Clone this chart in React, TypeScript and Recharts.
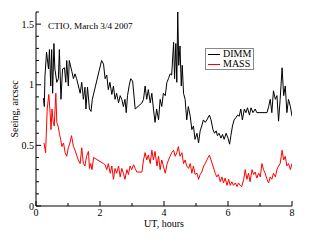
import { LineChart, Line, XAxis, YAxis, Legend } from "recharts";

const FONT = '"Liberation Serif", "Times New Roman", serif';

const dimmTime = [
  0.23, 0.26, 0.28, 0.33, 0.39, 0.42, 0.46, 0.49, 0.52, 0.56, 0.59, 0.65, 0.7, 0.73, 0.78, 0.83, 0.89, 0.93, 0.96, 1.01,
  1.04, 1.12, 1.17, 1.22, 1.27, 1.38, 1.43, 1.48, 1.53, 1.56, 1.61, 1.67, 1.72, 1.76, 2.05, 2.11, 2.16, 2.21, 2.26, 2.31,
  2.37, 2.42, 2.47, 2.52, 2.58, 2.63, 2.68, 2.73, 2.78, 2.82, 2.86, 2.91, 2.96, 3.02, 3.1, 3.31, 3.36, 3.41, 3.46, 3.51,
  3.57, 3.62, 3.67, 3.72, 3.77, 3.83, 3.88, 3.93, 3.98, 4.04, 4.09, 4.14, 4.19, 4.24, 4.3, 4.33, 4.37, 4.4, 4.43, 4.46,
  4.5, 4.54, 4.57, 4.61, 4.66, 4.71, 4.76, 4.82, 4.87, 4.92, 4.97, 5.03, 5.08, 5.13, 5.18, 5.23, 5.29, 5.34, 5.42, 5.47,
  5.53, 5.58, 5.63, 5.67, 5.72, 5.78, 5.83, 5.88, 5.94, 6.0, 6.05, 6.09, 6.14, 6.19, 6.25, 6.3, 6.35, 6.4, 6.45, 6.51,
  6.56, 6.61, 6.67, 6.72, 6.78, 6.85, 6.9, 7.22, 7.27, 7.32, 7.37, 7.42, 7.48, 7.53, 7.58, 7.63, 7.69, 7.74, 7.79, 7.84,
  7.89, 7.95, 8.0,
];
const dimmSeeing = [
  0.89, 0.82, 1.07, 1.27, 1.13, 1.29, 0.99, 1.29, 0.93, 1.34, 1.13, 1.02, 1.05, 1.29, 0.88, 1.13, 1.14, 1.02, 1.2, 0.99,
  1.2, 1.11, 1.05, 1.09, 1.05, 0.93, 1.02, 0.88, 0.98, 0.8, 0.98, 0.8, 0.78, 0.88, 1.2, 1.17, 1.05, 1.08, 0.96, 1.02,
  0.92, 0.99, 0.88, 0.93, 0.85, 0.91, 0.88, 0.82, 0.88, 0.77, 0.91, 0.99, 1.05, 1.03, 0.8, 0.85, 0.88, 0.99, 0.88, 0.96,
  0.85, 0.93, 0.8, 0.69, 0.8, 0.71, 0.88, 0.82, 0.93, 0.91, 1.02, 1.05, 1.09, 1.08, 1.35, 1.05, 1.34, 1.02, 1.6, 1.16,
  1.32, 0.99, 1.16, 0.93, 0.88, 0.71, 0.82, 0.74, 0.63, 0.66, 0.55, 0.6, 0.52, 0.62, 0.66, 0.71, 0.69, 0.71, 0.75, 0.71,
  0.63, 0.6, 0.62, 0.58, 0.6, 0.56, 0.59, 0.55, 0.6, 0.56, 0.51, 0.58, 0.66, 0.71, 0.73, 0.75, 0.74, 0.8, 0.71, 0.8,
  0.77, 0.81, 0.75, 0.81, 0.77, 0.8, 0.77, 0.77, 0.82, 0.88, 0.77, 0.95, 0.88, 0.91, 0.7, 0.88, 1.14, 0.91, 0.99, 0.77,
  0.88, 0.82, 0.74,
];

const massTime = [
  0.25, 0.3, 0.35, 0.4, 0.44, 0.47, 0.5, 0.54, 0.57, 0.62, 0.65, 0.69, 0.73, 0.77, 0.81, 0.86, 0.91, 0.96, 1.01, 1.06,
  1.11, 1.17, 1.22, 1.27, 1.32, 1.38, 1.43, 1.48, 1.53, 1.58, 1.64, 1.67, 1.71, 1.75, 1.8, 2.11, 2.16, 2.21, 2.26, 2.32,
  2.37, 2.42, 2.47, 2.52, 2.58, 2.63, 2.68, 2.73, 2.78, 2.84, 2.89, 2.94, 2.99, 3.05, 3.1, 3.15, 3.31, 3.36, 3.41, 3.46,
  3.51, 3.57, 3.62, 3.67, 3.72, 3.78, 3.83, 3.88, 3.93, 3.98, 4.04, 4.09, 4.14, 4.19, 4.24, 4.3, 4.35, 4.4, 4.45, 4.5,
  4.56, 4.61, 4.66, 4.71, 4.77, 4.82, 4.87, 4.92, 4.97, 5.03, 5.08, 5.13, 5.18, 5.24, 5.29, 5.34, 5.42, 5.47, 5.53, 5.6,
  5.65, 5.7, 5.76, 5.81, 5.86, 5.91, 5.97, 6.02, 6.07, 6.12, 6.17, 6.23, 6.28, 6.33, 6.38, 6.43, 6.49, 6.54, 6.59, 6.64,
  6.69, 6.75, 6.8, 6.85, 6.9, 6.96, 7.01, 7.06, 7.11, 7.16, 7.22, 7.27, 7.32, 7.37, 7.42, 7.48, 7.53, 7.58, 7.63, 7.69,
  7.74, 7.79, 7.84, 7.89, 7.95, 8.0,
];
const massSeeing = [
  0.52, 0.44, 0.8, 0.92, 0.77, 0.63, 0.8, 0.69, 0.66, 0.93, 0.69, 0.66, 0.6, 0.55, 0.49, 0.52, 0.44, 0.41, 0.48, 0.52,
  0.58, 0.49, 0.46, 0.42, 0.38, 0.35, 0.48, 0.35, 0.33, 0.41, 0.45, 0.31, 0.35, 0.3, 0.4, 0.35, 0.34, 0.3, 0.35, 0.27,
  0.33, 0.22, 0.31, 0.27, 0.33, 0.24, 0.31, 0.27, 0.22, 0.3, 0.26, 0.33, 0.3, 0.34, 0.31, 0.28, 0.28, 0.38, 0.44, 0.38,
  0.42, 0.35, 0.46, 0.38, 0.45, 0.33, 0.41, 0.3, 0.38, 0.33, 0.27, 0.34, 0.38, 0.41, 0.44, 0.46, 0.41, 0.44, 0.49, 0.41,
  0.44, 0.35, 0.38, 0.33, 0.31, 0.35, 0.27, 0.33, 0.26, 0.27, 0.22, 0.26, 0.28, 0.33, 0.35, 0.38, 0.42, 0.38, 0.33, 0.27,
  0.24, 0.26, 0.2, 0.24, 0.19, 0.23, 0.17, 0.22, 0.17, 0.2, 0.17, 0.19, 0.16, 0.19, 0.17, 0.16, 0.22, 0.3, 0.22, 0.27,
  0.2, 0.3, 0.26, 0.28, 0.23, 0.27, 0.24, 0.35, 0.3, 0.27, 0.22, 0.19, 0.24, 0.22, 0.27, 0.24, 0.3, 0.33, 0.35, 0.46,
  0.38, 0.41, 0.33, 0.35, 0.3, 0.35,
];

const xTicks = [0, 1, 2, 3, 4, 5, 6, 7, 8];
const xMajor = [0, 2, 4, 6, 8];
const yTicks = [0, 0.1, 0.2, 0.3, 0.4, 0.5, 0.6, 0.7, 0.8, 0.9, 1, 1.1, 1.2, 1.3, 1.4, 1.5, 1.6];
const yMajor = [0, 0.5, 1, 1.5];

const dimm = dimmTime.map((t, i) => ({ t, v: dimmSeeing[i] }));
const mass = massTime.map((t, i) => ({ t, v: massSeeing[i] }));

// ticks point inward, majors a bit longer, labels only on majors
function BottomTick({ x, y, payload }: any) {
  const major = xMajor.includes(payload.value);
  return (
    <g>
      <line x1={x} y1={y} x2={x} y2={y - (major ? 5 : 3)} stroke="#000" />
      {major && (
        <text x={x} y={y + 10} textAnchor="middle" fontSize={10} fontFamily={FONT} fill="#000">
          {String(payload.value)}
        </text>
      )}
    </g>
  );
}

function TopTick({ x, y, payload }: any) {
  const major = xMajor.includes(payload.value);
  return <line x1={x} y1={y} x2={x} y2={y + (major ? 5 : 3)} stroke="#000" />;
}

function LeftTick({ x, y, payload }: any) {
  const major = yMajor.includes(payload.value);
  return (
    <g>
      <line x1={x} y1={y} x2={x + (major ? 5 : 3)} y2={y} stroke="#000" />
      {major && (
        <text x={x - 2} y={y + 3.5} textAnchor="end" fontSize={10} fontFamily={FONT} fill="#000">
          {String(payload.value)}
        </text>
      )}
    </g>
  );
}

function RightTick({ x, y, payload }: any) {
  const major = yMajor.includes(payload.value);
  return <line x1={x} y1={y} x2={x - (major ? 5 : 3)} y2={y} stroke="#000" />;
}

function LegendBox() {
  const rows = [
    { name: "DIMM", color: "#000" },
    { name: "MASS", color: "#ff0000" },
  ];
  return (
    <div
      style={{
        border: "1px solid #888",
        background: "#fff",
        padding: "0 2px",
        fontFamily: FONT,
        fontSize: 10,
        lineHeight: "10px",
        color: "#000",
      }}
    >
      {rows.map((r) => (
        <div key={r.name} style={{ display: "flex", alignItems: "center", height: 10 }}>
          <span style={{ width: 12, height: 1, background: r.color, marginRight: 3 }} />
          <span>{r.name}</span>
        </div>
      ))}
    </div>
  );
}

export default function App() {
  return (
    <div style={{ position: "absolute", left: 0, top: 0, background: "#fff" }}>
      <LineChart width={314} height={243} margin={{ top: 12, right: 22, bottom: 0, left: 0 }}>
        <XAxis
          xAxisId="b"
          dataKey="t"
          type="number"
          domain={[0, 8]}
          allowDataOverflow
          ticks={xTicks}
          interval={0}
          tickSize={0}
          tickMargin={0}
          tickLine={false}
          tick={<BottomTick />}
          height={37}
          stroke="#000"
          label={{ value: "UT, hours", position: "insideBottom", offset: 16, fontSize: 10, fontFamily: FONT, fill: "#000" }}
        />
        <XAxis
          xAxisId="t"
          orientation="top"
          dataKey="t"
          type="number"
          domain={[0, 8]}
          allowDataOverflow
          ticks={xTicks}
          interval={0}
          tickSize={0}
          tickMargin={0}
          tickLine={false}
          tick={<TopTick />}
          height={0}
          stroke="#000"
        />
        <YAxis
          yAxisId="l"
          type="number"
          domain={[0, 1.6]}
          allowDataOverflow
          ticks={yTicks}
          interval={0}
          tickSize={0}
          tickMargin={0}
          tickLine={false}
          tick={<LeftTick />}
          width={36}
          stroke="#000"
          label={{ value: "Seeing, arcsec", angle: -90, position: "center", dx: -4, fontSize: 10, fontFamily: FONT, fill: "#000" }}
        />
        <YAxis
          yAxisId="r"
          orientation="right"
          type="number"
          domain={[0, 1.6]}
          allowDataOverflow
          ticks={yTicks}
          interval={0}
          tickSize={0}
          tickMargin={0}
          tickLine={false}
          tick={<RightTick />}
          width={0}
          stroke="#000"
        />
        <Legend
          layout="vertical"
          align="center"
          verticalAlign="middle"
          wrapperStyle={{ left: 205, top: 48, width: "auto" }}
          content={() => <LegendBox />}
        />
        <Line
          xAxisId="b"
          yAxisId="l"
          data={dimm}
          dataKey="v"
          name="DIMM"
          stroke="#000"
          strokeWidth={1}
          dot={false}
          type="linear"
          isAnimationActive={false}
        />
        <Line
          xAxisId="b"
          yAxisId="l"
          data={mass}
          dataKey="v"
          name="MASS"
          stroke="#ff0000"
          strokeWidth={1}
          dot={false}
          type="linear"
          isAnimationActive={false}
        />
        <text x={48} y={29} fontSize={9.2} fontFamily={FONT} fill="#000">
          CTIO, March 3/4 2007
        </text>
      </LineChart>
    </div>
  );
}
